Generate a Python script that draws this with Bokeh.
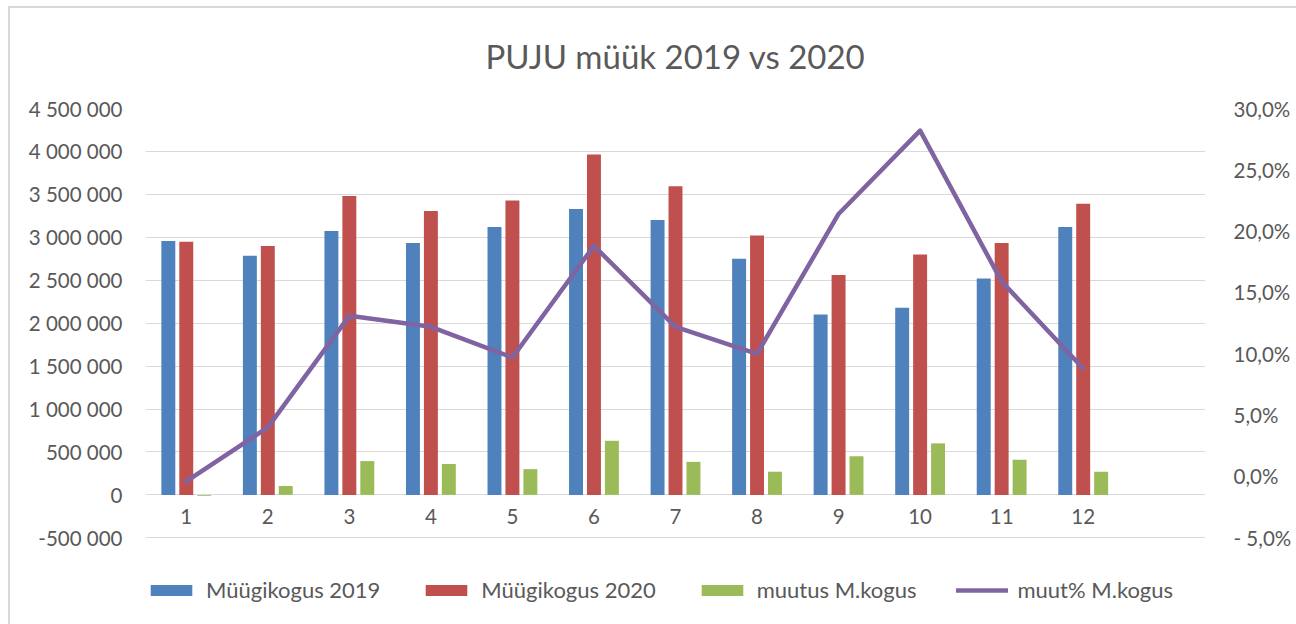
from bokeh.plotting import figure
from bokeh.models import (LinearAxis, Range1d, FixedTicker, CustomJSTickFormatter,
                          Legend, LegendItem, ColumnDataSource)
from bokeh.transform import dodge
from bokeh.core.properties import value
from bokeh.embed import file_html
from bokeh.resources import INLINE

# ---- data ----
months = [1, 2, 3, 4, 5, 6, 7, 8, 9, 10, 11, 12]
month_labels = ["1", "2", "3", "4", "5", "6", "7", "8", "9", "10", "11", "12"]
sales_2019 = [2958000, 2784000, 3074000, 2935000, 3120000, 3330000, 3200000, 2750000, 2100000, 2180000, 2520000, 3120000]
sales_2020 = [2947000, 2900000, 3480000, 3305000, 3430000, 3965000, 3595000, 3020000, 2560000, 2800000, 2935000, 3390000]
change_qty = [-11000, 104000, 394000, 360000, 300000, 630000, 385000, 270000, 450000, 600000, 410000, 270000]
change_pct = [-0.4, 4.0, 13.1, 12.2, 9.7, 18.8, 12.2, 10.0, 21.4, 28.2, 15.9, 8.8]
left_ticks = [-500000, 0, 500000, 1000000, 1500000, 2000000, 2500000, 3000000, 3500000, 4000000, 4500000]
right_ticks = [-5, 0, 5, 10, 15, 20, 25, 30]
right_labels = ["- 5,0%", "0,0%", "5,0%", "10,0%", "15,0%", "20,0%", "25,0%", "30,0%"]
series_names = ["Müügikogus 2019", "Müügikogus 2020", "muutus M.kogus", "muut% M.kogus"]
title_text = "PUJU müük 2019 vs 2020"

FONT = "Lato"
TXT = "#595959"
C_BLUE, C_RED, C_GREEN, C_PURPLE = "#4F81BD", "#C0504D", "#9BBB59", "#8064A2"

# ---- layout (pixels) ----
W, H = 1296, 624
F_LEFT, F_RIGHT, F_TOP, F_BOT = 145, 1205, 106, 620   # frame (extended down to hold legend)
AX_BOT = 537                                          # pixel of lowest axis value
L_MIN, L_MAX = -500000, 4500000
R_MIN, R_MAX = -5, 30
extra = F_BOT - AX_BOT
span = AX_BOT - F_TOP
l_low = L_MIN - extra * (L_MAX - L_MIN) / span
r_low = R_MIN - extra * (R_MAX - R_MIN) / span

src = ColumnDataSource(dict(x=months, lab=month_labels, s19=sales_2019, s20=sales_2020,
                            d=change_qty, pct=change_pct, zero=[0] * len(months)))

p = figure(width=W, height=H, output_backend="svg", toolbar_location=None,
           x_range=Range1d(0.5, 13.5), y_range=Range1d(l_low, L_MAX),
           min_border_left=F_LEFT, min_border_right=W - F_RIGHT,
           min_border_top=F_TOP, min_border_bottom=H - F_BOT)
p.extra_y_ranges = {"pct": Range1d(r_low, R_MAX)}

# chart-area border (top and left edges visible, as in the reference)
p.border_fill_color = None
p.background_fill_color = None
p.styles = {
    "background-color": "white",
    "background-image": "linear-gradient(#D9D9D9, #D9D9D9), linear-gradient(#D9D9D9, #D9D9D9)",
    "background-size": "2px 100%, 100% 2px",
    "background-position": "8px 6px, 8px 6px",
    "background-repeat": "no-repeat",
}

p.title.text = title_text
p.title.align = "center"
p.title.text_font = FONT
p.title.text_font_size = "33px"
p.title.text_font_style = "normal"
p.title.text_color = TXT
p.title.standoff = 66

p.outline_line_color = None
p.xgrid.visible = False
p.ygrid.grid_line_color = "#D9D9D9"
p.ygrid.ticker = FixedTicker(ticks=left_ticks)
p.xaxis.visible = False

ya = p.yaxis[0]
ya.ticker = FixedTicker(ticks=left_ticks)
ya.formatter = CustomJSTickFormatter(code="""
  const s = Math.round(Math.abs(tick)).toString().replace(/\\B(?=(\\d{3})+(?!\\d))/g, ' ');
  return (tick < 0 ? '-' : '') + s;
""")
ya.axis_line_color = None
ya.major_tick_line_color = None
ya.minor_tick_line_color = None
ya.major_label_standoff = 17
ya.major_label_text_font = FONT
ya.major_label_text_font_size = "20.5px"
ya.major_label_text_color = TXT

ra = LinearAxis(y_range_name="pct", ticker=FixedTicker(ticks=right_ticks),
                major_label_overrides={t: l for t, l in zip(right_ticks, right_labels)})
ra.axis_line_color = None
ra.major_tick_line_color = None
ra.minor_tick_line_color = None
ra.major_label_standoff = 22
ra.major_label_text_font = FONT
ra.major_label_text_font_size = "20.5px"
ra.major_label_text_color = TXT
p.add_layout(ra, "right")

bw = 0.171
r1 = p.vbar(x=dodge("x", -0.22, range=p.x_range), top="s19", bottom=0, width=bw, source=src,
            fill_color=C_BLUE, line_color=None)
r2 = p.vbar(x=dodge("x", 0.0, range=p.x_range), top="s20", bottom=0, width=bw, source=src,
            fill_color=C_RED, line_color=None)
r3 = p.vbar(x=dodge("x", 0.22, range=p.x_range), top="d", bottom=0, width=bw, source=src,
            fill_color=C_GREEN, line_color=None)
r4 = p.line(x="x", y="pct", source=src, y_range_name="pct", line_color=C_PURPLE,
            line_width=4.5, line_join="round", line_cap="round")

p.text(x="x", y="zero", text="lab", source=src, y_offset=22, text_align="center",
       text_baseline="middle", text_font=value(FONT), text_font_size="20.5px", text_color=TXT)

legend = Legend(items=[LegendItem(label=series_names[0], renderers=[r1]),
                       LegendItem(label=series_names[1], renderers=[r2]),
                       LegendItem(label=series_names[2], renderers=[r3]),
                       LegendItem(label=series_names[3], renderers=[r4])],
                orientation="horizontal", location=(0, 17),
                glyph_width=52, glyph_height=14, spacing=40, label_standoff=9,
                padding=0, margin=0, border_line_color=None, background_fill_alpha=0,
                label_text_font=FONT, label_text_font_size="22px", label_text_color=TXT)
p.add_layout(legend, "center")

open("out.html", "w").write(file_html(p, INLINE))
